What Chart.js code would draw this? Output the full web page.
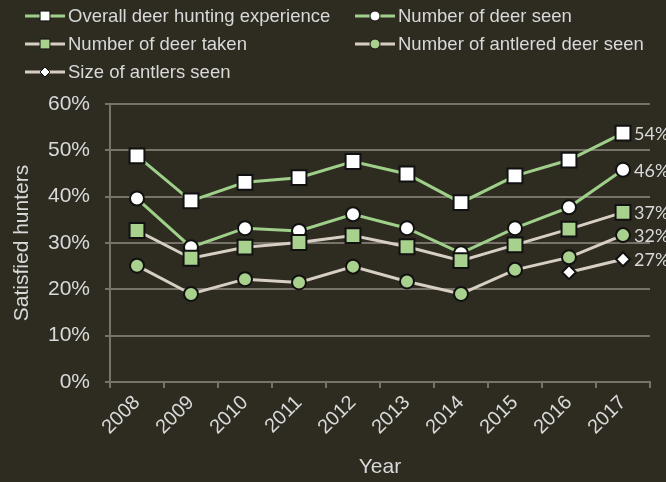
<!DOCTYPE html>
<html>
<head>
<meta charset="utf-8">
<script src="https://cdn.jsdelivr.net/npm/chart.js@4.4.1/dist/chart.umd.min.js"></script>
<style>
  html, body { margin: 0; padding: 0; background: #2e2b21; }
  #wrap { width: 666px; height: 482px; }
</style>
</head>
<body>
<div id="wrap"><canvas id="deerChart" width="666" height="482"></canvas></div>
<script>
'use strict';
const years = ['2008', '2009', '2010', '2011', '2012', '2013', '2014', '2015', '2016', '2017'];
const overallExperience = [48.8, 39.1, 43.1, 44.1, 47.6, 44.9, 38.7, 44.5, 47.9, 53.7];
const deerSeen = [39.6, 29.1, 33.2, 32.6, 36.2, 33.2, 27.8, 33.2, 37.7, 45.8];
const deerTaken = [32.7, 26.7, 29.1, 30.1, 31.6, 29.2, 26.2, 29.6, 33.0, 36.6];
const antleredSeen = [25.1, 19.0, 22.2, 21.5, 24.9, 21.7, 19.0, 24.2, 26.9, 31.7];
const antlerSize = [null, null, null, null, null, null, null, null, 23.7, 26.5];
const endLabels = ['54%', '46%', '37%', '32%', '27%'];
const yTicks = [0, 10, 20, 30, 40, 50, 60];

const GREEN_LINE = '#9fd08a';
const BEIGE_LINE = '#d8cfc4';
const GREEN_FILL = '#a9d18e';
const TEXT = '#d9d9d9';
const GRID = '#77736a';
const BG = '#2e2b21';
const SANS = '"Liberation Sans", Arial, sans-serif';

function series(label, data, lineColor, style, fill, radius, order) {
    return {
        label: label,
        data: data,
        borderColor: lineColor,
        borderWidth: 3,
        pointStyle: style,
        pointRadius: radius,
        pointHoverRadius: radius,
        pointBackgroundColor: fill,
        pointBorderColor: '#111111',
        pointBorderWidth: 2,
        fill: false,
        tension: 0,
        order: order
    };
}

// legend layout: two columns, three rows
const legendPos = [[25, 16], [355, 16], [25, 44], [355, 44], [25, 72]];

const legendPlugin = {
    id: 'legendAndLabels',
    afterDraw(chart) {
        const ctx = chart.ctx;
        ctx.save();
        chart.data.datasets.forEach((ds, i) => {
            const [x, y] = legendPos[i];
            ctx.strokeStyle = ds.borderColor;
            ctx.lineWidth = 3;
            ctx.beginPath();
            ctx.moveTo(x, y);
            ctx.lineTo(x + 40, y);
            ctx.stroke();
            ctx.fillStyle = ds.pointBackgroundColor;
            ctx.strokeStyle = '#111111';
            ctx.lineWidth = 1;
            Chart.helpers.drawPoint(ctx, {
                pointStyle: ds.pointStyle,
                rotation: 0,
                radius: ds.pointStyle === 'rect' ? 7 : 5,
                borderWidth: 1
            }, x + 20, y);
            ctx.fillStyle = TEXT;
            ctx.font = '18.5px ' + SANS;
            ctx.textBaseline = 'middle';
            ctx.textAlign = 'left';
            ctx.fillText(ds.label, x + 43, y + 1);

            // value label next to the 2017 point
            const meta = chart.getDatasetMeta(i);
            const pt = meta.data[meta.data.length - 1];
            ctx.font = '18px Lato, "Open Sans", sans-serif';
            ctx.fillText(endLabels[i], pt.x + 11, pt.y + 1);
        });
        ctx.restore();
    }
};

const bgPlugin = {
    id: 'bg',
    beforeDraw(chart) {
        const ctx = chart.ctx;
        ctx.save();
        ctx.fillStyle = BG;
        ctx.fillRect(0, 0, chart.width, chart.height);
        ctx.restore();
    }
};

const ctx = document.getElementById('deerChart').getContext('2d');
const deerChart = new Chart(ctx, {
    type: 'line',
    data: {
        labels: years,
        datasets: [
            series('Overall deer hunting experience', overallExperience, GREEN_LINE, 'rect', '#ffffff', 10.5, 1),
            series('Number of deer seen', deerSeen, GREEN_LINE, 'circle', '#ffffff', 7, 3),
            series('Number of deer taken', deerTaken, BEIGE_LINE, 'rect', GREEN_FILL, 10.5, 2),
            series('Number of antlered deer seen', antleredSeen, BEIGE_LINE, 'circle', GREEN_FILL, 7, 4),
            series('Size of antlers seen', antlerSize, BEIGE_LINE, 'rectRot', '#ffffff', 7, 5)
        ]
    },
    options: {
        responsive: false,
        animation: false,
        events: [],
        layout: { padding: { top: 104, right: 16, bottom: 0, left: 0 } },
        plugins: {
            legend: { display: false },
            tooltip: { enabled: false }
        },
        scales: {
            x: {
                offset: true,
                afterFit: (scale) => { scale.height = 100; },
                grid: {
                    offset: true,
                    drawOnChartArea: false,
                    drawTicks: true,
                    tickLength: 6,
                    color: GRID,
                    lineWidth: 2
                },
                border: { color: GRID, width: 2 },
                ticks: {
                    color: TEXT,
                    minRotation: 45,
                    maxRotation: 45,
                    padding: 3,
                    font: { family: SANS, size: 20 }
                },
                title: {
                    display: true,
                    text: 'Year',
                    color: TEXT,
                    padding: { top: 0, bottom: 2 },
                    font: { family: SANS, size: 21 }
                }
            },
            y: {
                min: 0,
                max: 60,
                afterBuildTicks: (scale) => { scale.ticks = yTicks.map(v => ({ value: v })); },
                afterFit: (scale) => { scale.width = 110; },
                grid: {
                    color: GRID,
                    lineWidth: 2,
                    drawTicks: true,
                    tickLength: 5
                },
                border: { color: GRID, width: 2 },
                ticks: {
                    color: TEXT,
                    padding: 15,
                    callback: (v) => v + '%',
                    font: { family: SANS, size: 21 }
                },
                title: {
                    display: true,
                    text: 'Satisfied hunters',
                    color: TEXT,
                    padding: { top: 10, bottom: 0 },
                    font: { family: SANS, size: 21 }
                }
            }
        }
    },
    plugins: [bgPlugin, legendPlugin]
});
</script>
</body>
</html>
